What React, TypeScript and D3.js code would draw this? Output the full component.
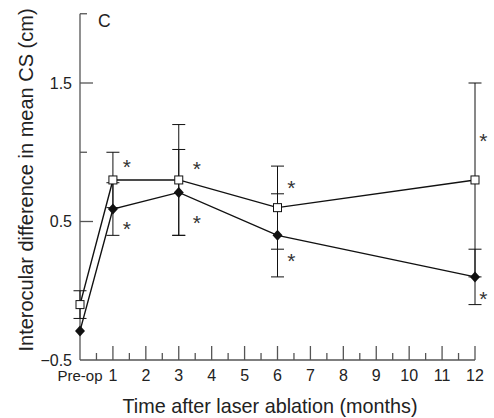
import * as d3 from "d3";

const W = 494;
const H = 418;
const FONT = "'Liberation Sans', Arial, sans-serif";

// months after ablation (0 = pre-op)
const months = [0, 1, 3, 6, 12];
const squareMean = [-0.1, 0.8, 0.8, 0.6, 0.8];
const squareErr = [0.1, 0.2, 0.4, 0.3, 0.7];
const diamondMean = [-0.29, 0.59, 0.71, 0.4, 0.1];
const diamondErr = [0, 0.19, 0.31, 0.3, 0.2];

// significance markers (month position, value)
const starMonth = [1.42, 3.55, 6.42, 12.25];
const starSquare = [0.93, 0.915, 0.78, 1.12];
const starDiamond = [0.48, 0.525, 0.25, -0.02];

const xTickLabels = ["Pre-op", "1", "2", "3", "4", "5", "6", "7", "8", "9", "10", "11", "12"];
const yMajor = [-0.5, 0.5, 1.5];
const yMinor = [1, 2];

const xScale = d3.scaleLinear().domain([0, 12]).range([80, 475]);
const yScale = d3.scaleLinear().domain([-0.5, 2]).range([360, 13.75]);

export default function App() {
  const line = d3
    .line<number>()
    .x((_, i) => xScale(months[i]))
    .y((d) => yScale(d));

  const axisColor = "#555";
  const x0 = xScale(0);
  const y0 = yScale(-0.5);

  const halfTicks = d3.range(0.5, 12, 1);

  const errBar = (m: number, mean: number, err: number, key: string) => {
    if (!err) return null;
    const x = xScale(m);
    const y1 = yScale(mean + err);
    const y2 = yScale(mean - err);
    return (
      <g key={key} stroke="#111" strokeWidth={1}>
        <line x1={x} x2={x} y1={y1} y2={y2} />
        <line x1={x - 6.5} x2={x + 6.5} y1={y1} y2={y1} />
        <line x1={x - 6.5} x2={x + 6.5} y1={y2} y2={y2} />
      </g>
    );
  };

  return (
    <div style={{ position: "absolute", left: 0, top: 0 }}>
      <svg width={W} height={H} style={{ display: "block", background: "#fff" }}>
        {/* axes */}
        <g stroke={axisColor} strokeWidth={1.3} fill="none">
          <line x1={x0} x2={x0} y1={yScale(2)} y2={y0} />
          <line x1={x0} x2={xScale(12)} y1={y0} y2={y0} />
          {yMajor
            .filter((v) => v > -0.5)
            .map((v) => (
              <line key={"ym" + v} x1={x0} x2={x0 + 13} y1={yScale(v)} y2={yScale(v)} />
            ))}
          {yMinor.map((v) => (
            <line key={"yn" + v} x1={x0} x2={x0 + 7} y1={yScale(v)} y2={yScale(v)} />
          ))}
          {d3.range(1, 13).map((m) => (
            <line key={"xm" + m} x1={xScale(m)} x2={xScale(m)} y1={y0} y2={y0 - 14} />
          ))}
          {halfTicks.map((m) => (
            <line key={"xn" + m} x1={xScale(m)} x2={xScale(m)} y1={y0} y2={y0 - 7} />
          ))}
        </g>

        {/* tick labels */}
        <g fontFamily={FONT} fontSize={16} fill="#222">
          {yMajor.map((v) => (
            <text key={"yl" + v} x={72} y={yScale(v) + 5.5} textAnchor="end">
              {v < 0 ? "\u2212" + Math.abs(v).toFixed(1) : v.toFixed(1)}
            </text>
          ))}
          {xTickLabels.map((t, i) => (
            <text
              key={"xl" + i}
              x={xScale(i)}
              y={381}
              textAnchor="middle"
              fontSize={i === 0 ? 15 : 16}
            >
              {t}
            </text>
          ))}
        </g>

        {/* axis titles */}
        <text
          x={270}
          y={413}
          textAnchor="middle"
          fontFamily={FONT}
          fontSize={19.8}
          fill="#222"
        >
          Time after laser ablation (months)
        </text>
        <text
          transform={`translate(33,${180}) rotate(-90)`}
          textAnchor="middle"
          fontFamily={FONT}
          fontSize={20}
          fill="#222"
        >
          Interocular difference in mean CS (cm)
        </text>
        <text x={98} y={27} fontFamily={FONT} fontSize={17.5} fill="#222">
          C
        </text>

        {/* error bars */}
        {months.map((m, i) => errBar(m, squareMean[i], squareErr[i], "es" + i))}
        {months.map((m, i) => errBar(m, diamondMean[i], diamondErr[i], "ed" + i))}

        {/* lines */}
        <path d={line(diamondMean) || ""} fill="none" stroke="#111" strokeWidth={1.4} />
        <path d={line(squareMean) || ""} fill="none" stroke="#111" strokeWidth={1.4} />

        {/* markers */}
        {months.map((m, i) => (
          <path
            key={"d" + i}
            d="M0,-5.5L5,0L0,5.5L-5,0Z"
            transform={`translate(${xScale(m)},${yScale(diamondMean[i])})`}
            fill="#111"
          />
        ))}
        {months.map((m, i) => (
          <rect
            key={"s" + i}
            x={xScale(m) - 4}
            y={yScale(squareMean[i]) - 4}
            width={8}
            height={8}
            fill="#fff"
            stroke="#111"
            strokeWidth={1}
          />
        ))}

        {/* significance asterisks */}
        <g fontFamily={FONT} fontSize={21} fill="#333" textAnchor="middle">
          {starMonth.map((m, i) => (
            <g key={"st" + i}>
              <text x={xScale(m)} y={yScale(starSquare[i]) + 12}>
                *
              </text>
              <text x={xScale(m)} y={yScale(starDiamond[i]) + 12}>
                *
              </text>
            </g>
          ))}
        </g>
      </svg>
    </div>
  );
}
